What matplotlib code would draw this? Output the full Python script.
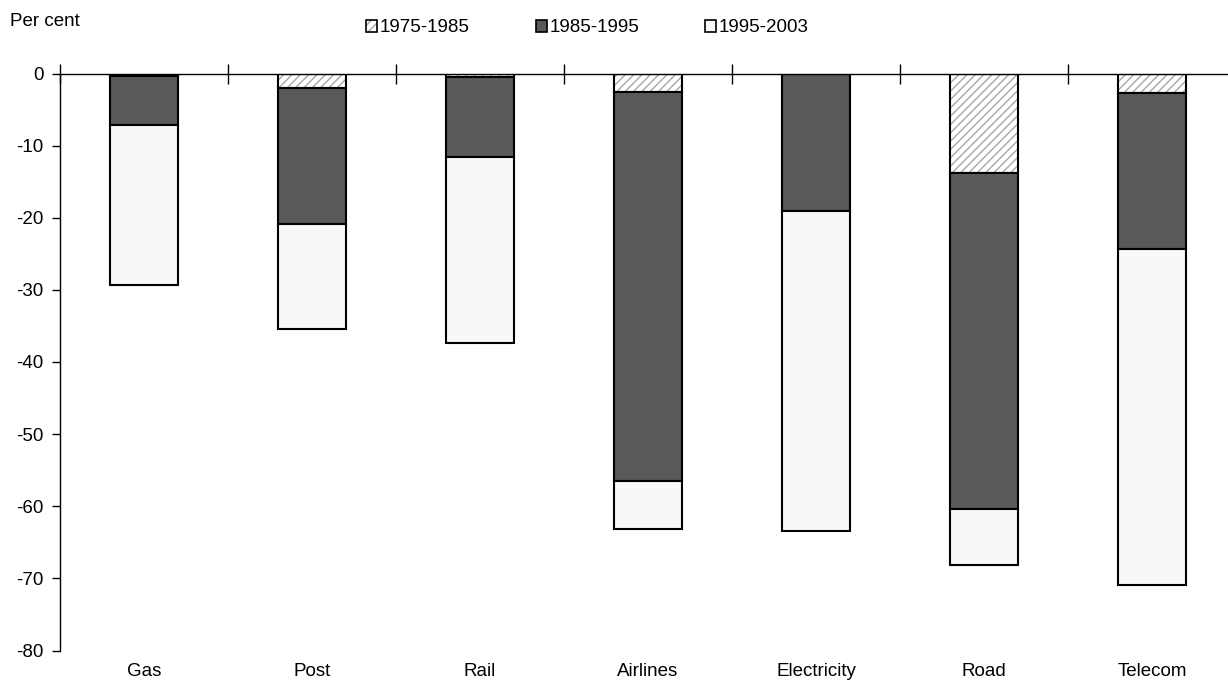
import matplotlib
matplotlib.use("Agg")
import matplotlib.pyplot as plt
from matplotlib.patches import Patch
import numpy as np

plt.rcParams['font.family'] = ['Liberation Sans', 'DejaVu Sans']
plt.rcParams['axes.unicode_minus'] = False
plt.rcParams['hatch.linewidth'] = 1.0

categories = ["Gas", "Post", "Rail", "Airlines", "Electricity", "Road", "Telecom"]
series_names = ["1975-1985", "1985-1995", "1995-2003"]
p1975_1985 = [-0.4, -2.0, -0.5, -2.6, 0.0, -13.8, -2.7]
p1985_1995 = [-6.7, -18.9, -11.1, -53.9, -19.0, -46.6, -21.7]
p1995_2003 = [-22.2, -14.5, -25.7, -6.6, -44.4, -7.7, -46.5]
y_ticks = [0, -10, -20, -30, -40, -50, -60, -70, -80]

W, H = 1228, 683
FS = 13.5
fig = plt.figure(figsize=(W / 100, H / 100), dpi=100)
ax = fig.add_axes([60 / W, 1 - 650.5 / H, 1176 / W, 577 / H])

x = np.arange(len(categories))
bw = 0.4
lw = 1.5
dark = '#595959'
light = '#f8f8f8'
hatch_col = '#a6a6a6'

b1 = np.array(p1975_1985)
b2 = np.array(p1985_1995)
b3 = np.array(p1995_2003)

# hatched first period: hatch in gray, outline in black
ax.bar(x, b1, bw, color='white', edgecolor=hatch_col, hatch='////', linewidth=0, zorder=2)
ax.bar(x, b1, bw, fill=False, edgecolor='black', linewidth=lw, zorder=3)
ax.bar(x, b2, bw, bottom=b1, color=dark, edgecolor='black', linewidth=lw, zorder=3)
ax.bar(x, b3, bw, bottom=b1 + b2, color=light, edgecolor='black', linewidth=lw, zorder=3)

ax.set_xlim(-0.5, len(categories) - 0.5)
ax.set_ylim(-80, 0)
ax.set_yticks(y_ticks)
ax.set_yticklabels([str(v) for v in y_ticks], fontsize=FS)

for s in ['right', 'bottom']:
    ax.spines[s].set_visible(False)
ax.spines['top'].set_linewidth(1.0)
ax.spines['left'].set_linewidth(1.0)
ax.spines['top'].set_zorder(4)

ax.set_xticks(x)
ax.set_xticklabels(categories, fontsize=FS)
ax.tick_params(axis='x', which='major', length=0, pad=9, bottom=True, top=False)
ax.set_xticks(np.arange(len(categories) + 1) - 0.5, minor=True)
ax.tick_params(axis='x', which='minor', top=True, bottom=False, direction='inout',
               length=14, width=1.0)
ax.tick_params(axis='y', direction='out', length=6, width=1.0, pad=6)

fig.text(10 / W, 1 - 22 / H, "Per cent", fontsize=FS, va='center', ha='left')

handles = [
    (Patch(facecolor='white', edgecolor=hatch_col, hatch='////', linewidth=0),
     Patch(fill=False, edgecolor='black', linewidth=1.2)),
    Patch(facecolor=dark, edgecolor='black', linewidth=1.2),
    Patch(facecolor=light, edgecolor='black', linewidth=1.2),
]
fig.legend(handles, series_names, loc='center left',
           bbox_to_anchor=(366 / W, 1 - 28 / H), ncol=3, frameon=False,
           fontsize=FS, handlelength=0.6, handleheight=0.6, handletextpad=0.15,
           columnspacing=3.5, borderpad=0, borderaxespad=0)

fig.savefig("out.png", dpi=100)
